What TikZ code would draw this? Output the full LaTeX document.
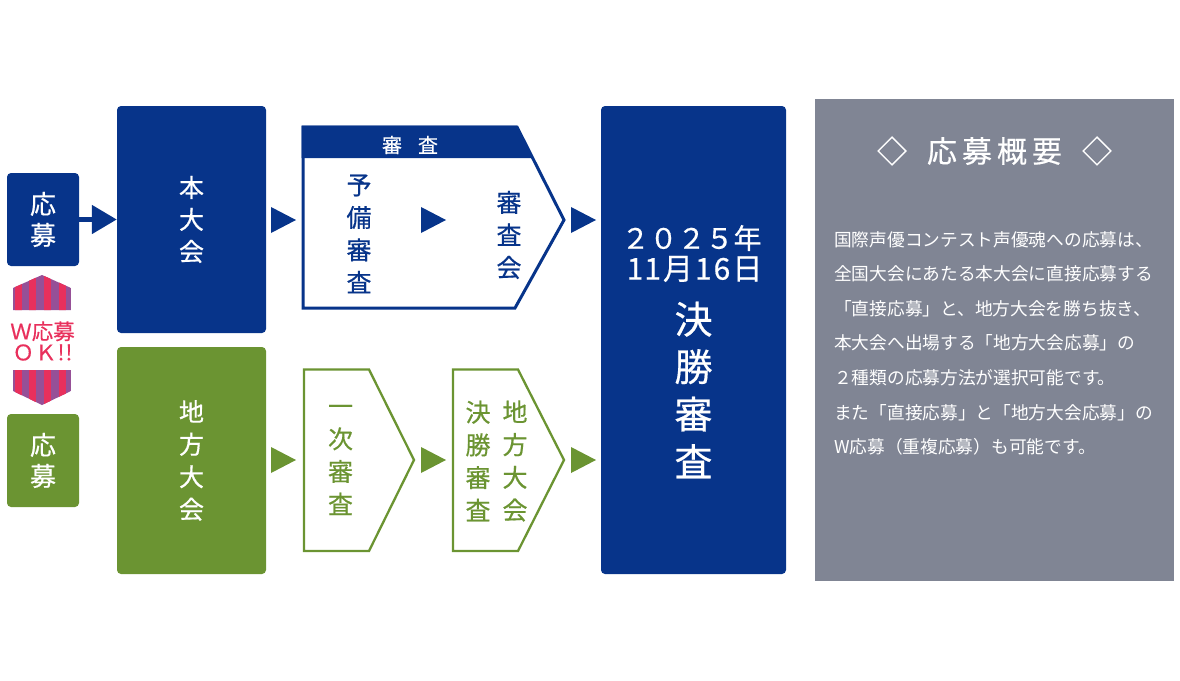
\documentclass[tikz,border=0pt]{standalone}
\usepackage{fontspec}
\setmainfont{Noto Sans CJK JP}
\newfontfamily\labelfont[FakeBold=0.5]{Noto Sans CJK JP}
\usepackage{xcolor}
\usetikzlibrary{arrows.meta}
\definecolor{navyblue}{HTML}{07348A}
\definecolor{leafgreen}{HTML}{6B9432}
\definecolor{slategray}{HTML}{808594}
\definecolor{wred}{HTML}{E8305C}
\definecolor{wpurple}{HTML}{965097}
\newcommand{\fsize}[2]{\labelfont\fontsize{#1}{#2}\selectfont}
\tikzset{
  panel/.style={rounded corners=4pt, inner sep=0pt, text=white, align=center},
  vtext/.style={align=center, inner sep=0pt},
}

\begin{document}
\begin{tikzpicture}[x=1pt, y=-1pt]
\useasboundingbox (0,0) rectangle (1180,680);

% boxes
\node[panel, fill=navyblue, minimum width=72pt, minimum height=93pt, font=\fsize{26}{31}] (ouboA) at (43,219.5) {応\\募};
\node[panel, fill=leafgreen, minimum width=72pt, minimum height=93pt, font=\fsize{26}{31}] (ouboB) at (43,460.5) {応\\募};
\node[panel, fill=navyblue, minimum width=149pt, minimum height=227pt, font=\fsize{25}{32}] (honbox) at (191.5,219.5) {本\\大\\会};
\node[panel, fill=leafgreen, minimum width=149pt, minimum height=227pt, font=\fsize{25}{32.5}] (chihobox) at (191.5,460.5) {地\\方\\大\\会};
\node[panel, fill=navyblue, minimum width=185pt, minimum height=468pt] (finalbox) at (693.5,340) {};

% final text
\node[vtext, text=white, font=\fsize{28}{32}] (finalyear) at (691.5,238) {２０２５年};
\node[vtext, text=white, font=\fsize{30}{32}] (finaldate) at (694.5,269) {1\hspace{1pt}1\hspace{2pt}月\hspace{2pt}1\hspace{2pt}6\hspace{2pt}日};
\node[vtext, text=white, font=\fsize{38}{47.5}] (finalname) at (693.5,390) {決\\勝\\審\\査};

% connector
\draw[navyblue, line width=5pt, -{Triangle[length=25pt, width=28pt]}] (ouboA.east) -- (honbox.west |- ouboA.east);

% W badge
\begin{scope}
\clip (13,288) -- (42,275) -- (71,288) -- (71,310) -- (13,310) -- cycle;
\fill[wpurple] (13,270) rectangle (71,312);
\foreach \x in {14.7,28.7,43.5,58.5}
  \fill[wred] (\x,270) rectangle (\x+7.2,312);
\end{scope}
\begin{scope}
\clip (13,370) -- (71,370) -- (71,391) -- (42,405) -- (13,391) -- cycle;
\fill[wpurple] (13,368) rectangle (71,407);
\foreach \x in {14.7,28.7,43.5,58.5}
  \fill[wred] (\x,368) rectangle (\x+7.2,407);
\end{scope}
\node[vtext, text=wred, font=\fsize{21.5}{21}] (wlabel) at (42.5,341) {Ｗ応募\\Ｏ\hspace{1pt}Ｋ\hspace{1pt}!\hspace{1pt}!};

% review boxes
\draw[navyblue, line width=3pt] (303,127) -- (517,127) -- (564,220) -- (515,308) -- (303,308) -- cycle;
\fill[navyblue] (301.5,125.5) -- (517,125.5) -- (532,158) -- (301.5,158) -- cycle;
\node[vtext, text=white, font=\fsize{20}{24}] (headreview) at (410,145) {審\hspace{16pt}査};
\node[vtext, text=navyblue, font=\fsize{25}{32.5}] (yobi) at (359,234) {予\\備\\審\\査};
\node[vtext, text=navyblue, font=\fsize{25}{32.5}] (shinsakai) at (509,235) {審\\査\\会};

\draw[leafgreen, line width=2.3pt] (304,369.5) -- (369,369.5) -- (414,460) -- (369,551) -- (304,551) -- cycle;
\draw[leafgreen, line width=2.3pt] (453,369.5) -- (518,369.5) -- (564,460) -- (518,551) -- (453,551) -- cycle;
\node[vtext, text=leafgreen, font=\fsize{25}{32.7}] (ichiji) at (340.5,460) {一\\次\\審\\査};
\node[vtext, text=leafgreen, font=\fsize{25}{32.7}] (chiho) at (515,461) {地\\方\\大\\会};
\node[vtext, text=leafgreen, font=\fsize{25}{32.7}] (kessho) at (478,461) {決\\勝\\審\\査};

% triangles
\foreach \x in {271,421,571}
  \fill[navyblue] (\x,207) -- (\x+25,220) -- (\x,233) -- cycle;
\foreach \x in {271,421,571}
  \fill[leafgreen] (\x,447) -- (\x+25,460) -- (\x,473) -- cycle;

% outline panel
\fill[slategray] (815,99) rectangle (1174,581);
\node[vtext, text=white, font=\fsize{30}{34}] (outlinehead) at (994.5,151) {◇\hspace{20pt}応\hspace{5pt}募\hspace{5pt}概\hspace{5pt}要\hspace{20pt}◇};
\node[vtext, text=white, anchor=north west, align=left, font=\fontsize{17.7}{34.6}\selectfont] (outlinebody) at (834,231) {国際声優コンテスト声優魂への応募は、\\
全国大会にあたる本大会に直接応募する\\
「直接応募」と、地方大会を勝ち抜き、\\
本大会へ出場する「地方大会応募」の\\
２種類の応募方法が選択可能です。\\
また「直接応募」と「地方大会応募」の\\
W応募（重複応募）も可能です。};
\end{tikzpicture}
\end{document}
